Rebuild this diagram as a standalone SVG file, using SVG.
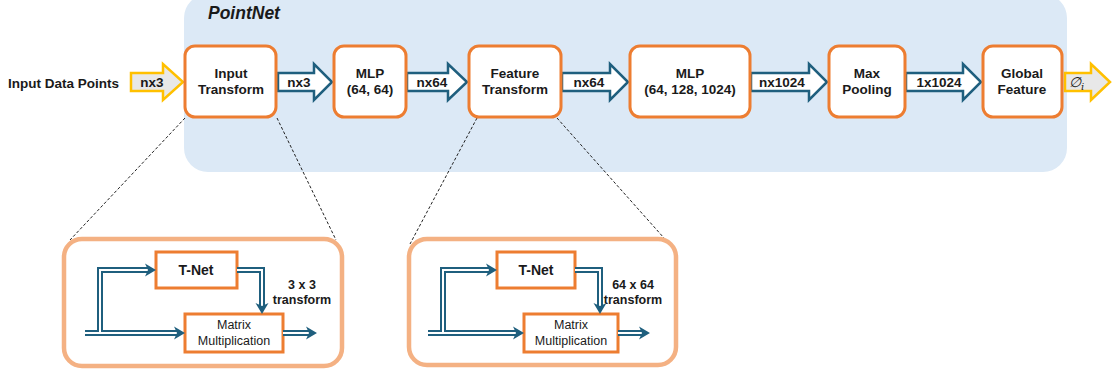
<svg xmlns="http://www.w3.org/2000/svg" xmlns:xlink="http://www.w3.org/1999/xlink" width="1115" height="374" viewBox="0 0 1115 374">
<style>
text{font-family:"Liberation Sans",Arial,sans-serif;fill:#1a1a1a}
.b{font-weight:bold;font-size:13.5px;text-anchor:middle}
.node{fill:#fff;stroke:#ED7D31;stroke-width:3}
.inner{fill:#fff;stroke:#ED7D31;stroke-width:3}
.outer{fill:#fff;stroke:#F4B183;stroke-width:4.5}
.blk{fill:#fff;stroke:#1F5F7E;stroke-width:2.5;stroke-linejoin:miter}
.yel{fill:#E8E8E8;stroke:#FFC000;stroke-width:2.5}
.dash{stroke:#222;stroke-width:1;stroke-dasharray:3 2;fill:none}
.dl{fill:none;stroke:#1F5F7E;stroke-width:6}
.dw{fill:none;stroke:#fff;stroke-width:2}
.ah{fill:#1F5F7E}
.sm{font-size:12.5px;text-anchor:middle}
.sb{font-size:12.5px;font-weight:bold;text-anchor:middle}
</style>
<defs>
<path id="ah" d="M-11,-6.5 L0,0 L-11,6.5 L-8,0 Z"/>
</defs>
<rect x="184" y="-6" width="883" height="178" rx="24" fill="#DCE9F6"/>
<text x="208" y="19" style="font-weight:bold;font-style:italic;font-size:17.5px">PointNet</text>
<text x="8" y="88" style="font-weight:bold;font-size:13.5px">Input Data Points</text>

<g id="connectors">
<path class="yel" d="M131,73 H163 V64 L183,82 L163,100 V91 H131 Z"/>
<text class="b" x="152" y="87">nx3</text>
<path class="blk" d="M278,73 H314 V64 L332,82 L314,100 V91 H278 Z"/>
<text class="b" x="299" y="87">nx3</text>
<path class="blk" d="M407,73 H448 V64 L467,82 L448,100 V91 H407 Z"/>
<text class="b" x="432" y="87">nx64</text>
<path class="blk" d="M562,73 H610 V64 L628,82 L610,100 V91 H562 Z"/>
<text class="b" x="589" y="87">nx64</text>
<path class="blk" d="M751,73 H809 V64 L827,82 L809,100 V91 H751 Z"/>
<text class="b" x="782" y="87">nx1024</text>
<path class="blk" d="M906,73 H963 V64 L981,82 L963,100 V91 H906 Z"/>
<text class="b" x="939" y="87">1x1024</text>
<path class="yel" d="M1065,73 H1091 V64 L1110,82 L1091,100 V91 H1065 Z"/>
<text x="1069" y="87" style="font-family:'DejaVu Serif','Liberation Serif',serif;font-style:italic;font-size:14px">∅<tspan font-size="10" dy="3">i</tspan></text>
<line class="dash" x1="185" y1="118" x2="70" y2="240"/>
<line class="dash" x1="277" y1="118" x2="336" y2="240"/>
<line class="dash" x1="477" y1="118" x2="410" y2="244"/>
<line class="dash" x1="557" y1="118" x2="664" y2="238"/>
</g>

<g id="input-transform"><rect class="node" x="185" y="46" width="91" height="71" rx="10"/>
<text class="b" x="231" y="77.5">Input</text><text class="b" x="231" y="93.5">Transform</text></g>
<g id="mlp1"><rect class="node" x="334" y="46" width="72" height="71" rx="10"/>
<text class="b" x="370" y="77.5">MLP</text><text class="b" x="370" y="93.5">(64, 64)</text></g>
<g id="feature-transform"><rect class="node" x="469" y="46" width="92" height="71" rx="10"/>
<text class="b" x="515" y="77.5">Feature</text><text class="b" x="515" y="93.5">Transform</text></g>
<g id="mlp2"><rect class="node" x="630" y="46" width="120" height="71" rx="10"/>
<text class="b" x="690" y="77.5">MLP</text><text class="b" x="690" y="93.5">(64, 128, 1024)</text></g>
<g id="max-pooling"><rect class="node" x="829" y="46" width="76" height="71" rx="10"/>
<text class="b" x="867" y="77.5">Max</text><text class="b" x="867" y="93.5">Pooling</text></g>
<g id="global-feature"><rect class="node" x="983" y="46" width="79" height="71" rx="10"/>
<text class="b" x="1022" y="77.5">Global</text><text class="b" x="1022" y="93.5">Feature</text></g>

<g id="input-transform-detail">
<rect class="outer" x="64" y="239" width="278" height="127" rx="18"/>
<g id="tnet1"><rect class="inner" x="156" y="252" width="81" height="36"/>
<text x="196" y="275" style="font-weight:bold;font-size:14px;text-anchor:middle">T-Net</text></g>
<g id="matmul1"><rect class="inner" x="185" y="314" width="98" height="38"/>
<text class="sm" x="234" y="329">Matrix</text><text class="sm" x="234" y="345">Multiplication</text></g>
<text class="sb" x="302" y="289">3 x 3</text><text class="sb" x="302" y="304">transform</text>
<g class="conn">
<path class="dl" d="M85,333 H177 M100,333 V270 H148 M237,270 H262 V306 M283,333 H309"/>
<path class="dw" d="M85,333 H177 M100,333 V270 H148 M237,270 H262 V306 M283,333 H309"/>
<use xlink:href="#ah" class="ah" transform="translate(185,333)"/>
<use xlink:href="#ah" class="ah" transform="translate(156,270)"/>
<use xlink:href="#ah" class="ah" transform="translate(262,314) rotate(90)"/>
<use xlink:href="#ah" class="ah" transform="translate(317,333)"/>
</g>
</g>

<g id="feature-transform-detail">
<rect class="outer" x="409" y="239" width="267" height="126" rx="18"/>
<g id="tnet2"><rect class="inner" x="497" y="252" width="78" height="36"/>
<text x="536" y="275" style="font-weight:bold;font-size:14px;text-anchor:middle">T-Net</text></g>
<g id="matmul2"><rect class="inner" x="524" y="314" width="94" height="38"/>
<text class="sm" x="571" y="329">Matrix</text><text class="sm" x="571" y="345">Multiplication</text></g>
<text class="sb" x="633" y="289">64 x 64</text><text class="sb" x="633" y="304">transform</text>
<g class="conn">
<path class="dl" d="M428,333 H516 M443,333 V270 H489 M575,270 H600 V306 M618,333 H642"/>
<path class="dw" d="M428,333 H516 M443,333 V270 H489 M575,270 H600 V306 M618,333 H642"/>
<use xlink:href="#ah" class="ah" transform="translate(524,333)"/>
<use xlink:href="#ah" class="ah" transform="translate(497,270)"/>
<use xlink:href="#ah" class="ah" transform="translate(600,314) rotate(90)"/>
<use xlink:href="#ah" class="ah" transform="translate(650,333)"/>
</g>
</g>
</svg>
